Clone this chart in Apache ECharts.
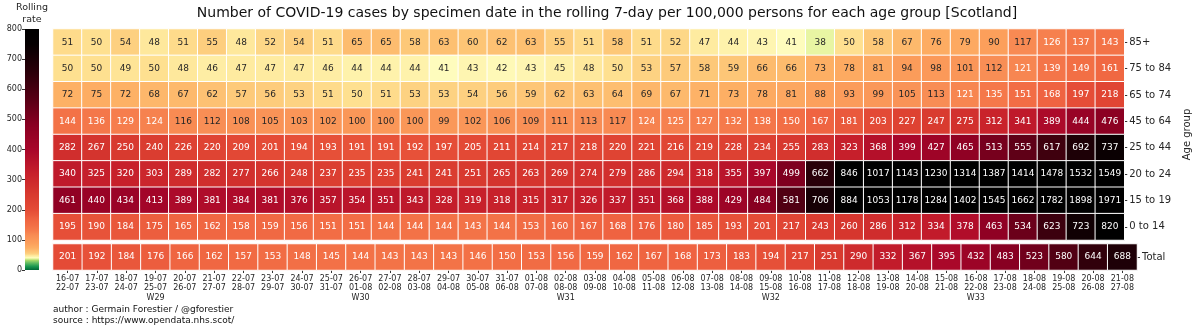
<!DOCTYPE html>
<html>
<head>
<meta charset="utf-8">
<script src="https://cdn.jsdelivr.net/npm/echarts@6/dist/echarts.min.js"></script>
<style>
  html, body { margin: 0; padding: 0; background: #ffffff; }
  #chart { width: 1200px; height: 330px; }
</style>
</head>
<body>
<div id="chart"></div>
<script>
// Rolling 7-day windows (start / end, with ISO week on the middle day of each week)
const periods = [
  '16-07\n22-07', '17-07\n23-07', '18-07\n24-07', '19-07\n25-07\nW29', '20-07\n26-07',
  '21-07\n27-07', '22-07\n28-07', '23-07\n29-07', '24-07\n30-07', '25-07\n31-07',
  '26-07\n01-08\nW30', '27-07\n02-08', '28-07\n03-08', '29-07\n04-08', '30-07\n05-08',
  '31-07\n06-08', '01-08\n07-08', '02-08\n08-08\nW31', '03-08\n09-08', '04-08\n10-08',
  '05-08\n11-08', '06-08\n12-08', '07-08\n13-08', '08-08\n14-08', '09-08\n15-08\nW32',
  '10-08\n16-08', '11-08\n17-08', '12-08\n18-08', '13-08\n19-08', '14-08\n20-08',
  '15-08\n21-08', '16-08\n22-08\nW33', '17-08\n23-08', '18-08\n24-08', '19-08\n25-08',
  '20-08\n26-08', '21-08\n27-08'
];

const ageGroups = ['85+', '75 to 84', '65 to 74', '45 to 64', '25 to 44', '20 to 24', '15 to 19', '0 to 14'];
const totalLabel = ['Total'];

// Cases per 100,000 persons, rolling 7 days
const rate85plus = [51, 50, 54, 48, 51, 55, 48, 52, 54, 51, 65, 65, 58, 63, 60, 62, 63, 55, 51, 58,
  51, 52, 47, 44, 43, 41, 38, 50, 58, 67, 76, 79, 90, 117, 126, 137, 143];
const rate75to84 = [50, 50, 49, 50, 48, 46, 47, 47, 47, 46, 44, 44, 44, 41, 43, 42, 43, 45, 48, 50,
  53, 57, 58, 59, 66, 66, 73, 78, 81, 94, 98, 101, 112, 121, 139, 149, 161];
const rate65to74 = [72, 75, 72, 68, 67, 62, 57, 56, 53, 51, 50, 51, 53, 53, 54, 56, 59, 62, 63, 64,
  69, 67, 71, 73, 78, 81, 88, 93, 99, 105, 113, 121, 135, 151, 168, 197, 218];
const rate45to64 = [144, 136, 129, 124, 116, 112, 108, 105, 103, 102, 100, 100, 100, 99, 102, 106, 109, 111, 113, 117,
  124, 125, 127, 132, 138, 150, 167, 181, 203, 227, 247, 275, 312, 341, 389, 444, 476];
const rate25to44 = [282, 267, 250, 240, 226, 220, 209, 201, 194, 193, 191, 191, 192, 197, 205, 211, 214, 217, 218, 220,
  221, 216, 219, 228, 234, 255, 283, 323, 368, 399, 427, 465, 513, 555, 617, 692, 737];
const rate20to24 = [340, 325, 320, 303, 289, 282, 277, 266, 248, 237, 235, 235, 241, 241, 251, 265, 263, 269, 274, 279,
  286, 294, 318, 355, 397, 499, 662, 846, 1017, 1143, 1230, 1314, 1387, 1414, 1478, 1532, 1549];
const rate15to19 = [461, 440, 434, 413, 389, 381, 384, 381, 376, 357, 354, 351, 343, 328, 319, 318, 315, 317, 326, 337,
  351, 368, 388, 429, 484, 581, 706, 884, 1053, 1178, 1284, 1402, 1545, 1662, 1782, 1898, 1971];
const rate0to14 = [195, 190, 184, 175, 165, 162, 158, 159, 156, 151, 151, 144, 144, 144, 143, 144, 153, 160, 167, 168,
  176, 180, 185, 193, 201, 217, 243, 260, 286, 312, 334, 378, 463, 534, 623, 723, 820];
const rateTotal = [201, 192, 184, 176, 166, 162, 157, 153, 148, 145, 144, 143, 143, 143, 146, 150, 153, 156, 159, 162,
  167, 168, 173, 183, 194, 217, 251, 290, 332, 367, 395, 432, 483, 523, 580, 644, 688];

const colorbarMin = 0;
const colorbarMax = 800;
const colorbarStep = 100;

const ageRows = [rate85plus, rate75to84, rate65to74, rate45to64, rate25to44, rate20to24, rate15to19, rate0to14];

// Colour scale: green -> yellow -> orange -> red -> black
const colorStops = [
  [0, '#006837'], [12, '#1a9850'], [24, '#66bd63'], [32, '#a6d96a'], [37, '#e0f29a'],
  [41, '#fefcbd'], [44, '#fef2ab'], [48, '#fee89c'], [50, '#fee090'], [53, '#fdd282'],
  [58, '#fdc878'], [64, '#fdbe70'], [73, '#fdaf64'], [88, '#fca05c'], [115, '#f88c54'],
  [132, '#f57a4b'], [150, '#f26e45'], [167, '#ef6441'], [200, '#e44b36'], [250, '#d83a2f'],
  [320, '#c7202b'], [400, '#a8062a'], [480, '#8a0022'], [560, '#5c0016'], [650, '#2e000a'],
  [750, '#050001'], [800, '#000000']
];

function hexToRgb(h) {
  return [parseInt(h.slice(1, 3), 16), parseInt(h.slice(3, 5), 16), parseInt(h.slice(5, 7), 16)];
}
function colorAt(v) {
  for (let i = 1; i < colorStops.length; i++) {
    if (v <= colorStops[i][0]) {
      const [v0, c0] = colorStops[i - 1];
      const [v1, c1] = colorStops[i];
      const t = (v - v0) / (v1 - v0);
      const a = hexToRgb(c0), b = hexToRgb(c1);
      const m = a.map((x, k) => Math.round(x + (b[k] - x) * t));
      return 'rgb(' + m.join(',') + ')';
    }
  }
  return colorStops[colorStops.length - 1][1];
}
// evenly spaced samples for the continuous visual map
const scaleColors = [];
for (let v = colorbarMin; v <= colorbarMax; v += 1) scaleColors.push(colorAt(v));

// gradient for the colour bar, bottom (0) to top (800)
const barGradient = new echarts.graphic.LinearGradient(0, 1, 0, 0,
  scaleColors.map((c, i) => ({ offset: i / (scaleColors.length - 1), color: c })));

const FONT = 'DejaVu Sans';
const TEXT = '#262626';

function cell(x, y, v) {
  return { value: [x, y, v], label: { color: v >= 120 ? '#ffffff' : TEXT } };
}

const ageData = [];
ageRows.forEach((row, r) => row.forEach((v, c) => ageData.push(cell(c, r, v))));
const totalData = rateTotal.map((v, c) => cell(c, 0, v));

const cellLabel = {
  show: true,
  fontFamily: FONT,
  fontSize: 9,
  formatter: p => String(p.value[2])
};
const cellStyle = { borderColor: '#ffffff', borderWidth: 1 };

const GRID_LEFT = 53, GRID_RIGHT = 63;

const chart = echarts.init(document.getElementById('chart'), null, { renderer: 'canvas' });
chart.setOption({
  animation: false,
  backgroundColor: '#ffffff',
  textStyle: { fontFamily: FONT },
  graphic: [
    {
      type: 'text', x: 607, y: 6,
      style: {
        text: 'Number of COVID-19 cases by specimen date in the rolling 7-day per 100,000 persons for each age group [Scotland]',
        fontFamily: FONT, fontSize: 14, fill: '#111', textAlign: 'center'
      }
    },
    {
      type: 'text', x: 32, y: 2,
      style: { text: 'Rolling\nrate', fontFamily: FONT, fontSize: 9.5, lineHeight: 12, fill: TEXT, textAlign: 'center' }
    },
    {
      type: 'text', x: 53, y: 304,
      style: {
        text: 'author : Germain Forestier / @gforestier\nsource : https://www.opendata.nhs.scot/',
        fontFamily: FONT, fontSize: 9, lineHeight: 11, fill: '#111'
      }
    }
  ],
  grid: [
    { left: GRID_LEFT, right: GRID_RIGHT, top: 29, height: 211 },
    { left: GRID_LEFT, right: GRID_RIGHT, top: 244, height: 26 },
    { left: 25, width: 14, top: 29, height: 241 }
  ],
  xAxis: [
    { gridIndex: 0, type: 'category', data: periods, show: false },
    {
      gridIndex: 1, type: 'category', data: periods,
      axisLine: { show: false },
      axisTick: { show: true, alignWithLabel: true, length: 3, lineStyle: { color: '#333' } },
      axisLabel: { interval: 0, fontFamily: FONT, fontSize: 8, lineHeight: 9.5, color: TEXT, margin: 4 }
    },
    { gridIndex: 2, type: 'category', data: [''], show: false }
  ],
  yAxis: [
    {
      gridIndex: 0, type: 'category', data: ageGroups, inverse: true, position: 'right',
      axisLine: { show: false },
      axisTick: { show: true, alignWithLabel: true, length: 3, lineStyle: { color: '#333' } },
      axisLabel: { fontFamily: FONT, fontSize: 10, color: TEXT, margin: 5 },
      name: 'Age group', nameLocation: 'middle', nameGap: 52, nameRotate: 90,
      nameTextStyle: { fontFamily: FONT, fontSize: 10, color: TEXT }
    },
    {
      gridIndex: 1, type: 'category', data: totalLabel, position: 'right',
      axisLine: { show: false },
      axisTick: { show: true, alignWithLabel: true, length: 3, lineStyle: { color: '#333' } },
      axisLabel: { fontFamily: FONT, fontSize: 10, color: TEXT, margin: 5 }
    },
    {
      gridIndex: 2, type: 'value', min: colorbarMin, max: colorbarMax, interval: colorbarStep, position: 'left',
      axisLine: { show: false },
      splitLine: { show: false },
      axisTick: { show: true, length: 3, lineStyle: { color: '#333' } },
      axisLabel: { fontFamily: FONT, fontSize: 8, color: TEXT, margin: 3 }
    }
  ],
  visualMap: {
    show: false,
    type: 'continuous',
    seriesIndex: [0, 1],
    dimension: 2,
    min: colorbarMin,
    max: colorbarMax,
    inRange: { color: scaleColors },
    outOfRange: { color: '#000000' }
  },
  series: [
    {
      type: 'heatmap', xAxisIndex: 0, yAxisIndex: 0, data: ageData,
      label: cellLabel, itemStyle: cellStyle, emphasis: { disabled: true }
    },
    {
      type: 'heatmap', xAxisIndex: 1, yAxisIndex: 1, data: totalData,
      label: cellLabel, itemStyle: cellStyle, emphasis: { disabled: true }
    },
    {
      type: 'bar', xAxisIndex: 2, yAxisIndex: 2, data: [colorbarMax], barWidth: '100%', silent: true,
      itemStyle: { color: barGradient }
    }
  ]
});
</script>
</body>
</html>
